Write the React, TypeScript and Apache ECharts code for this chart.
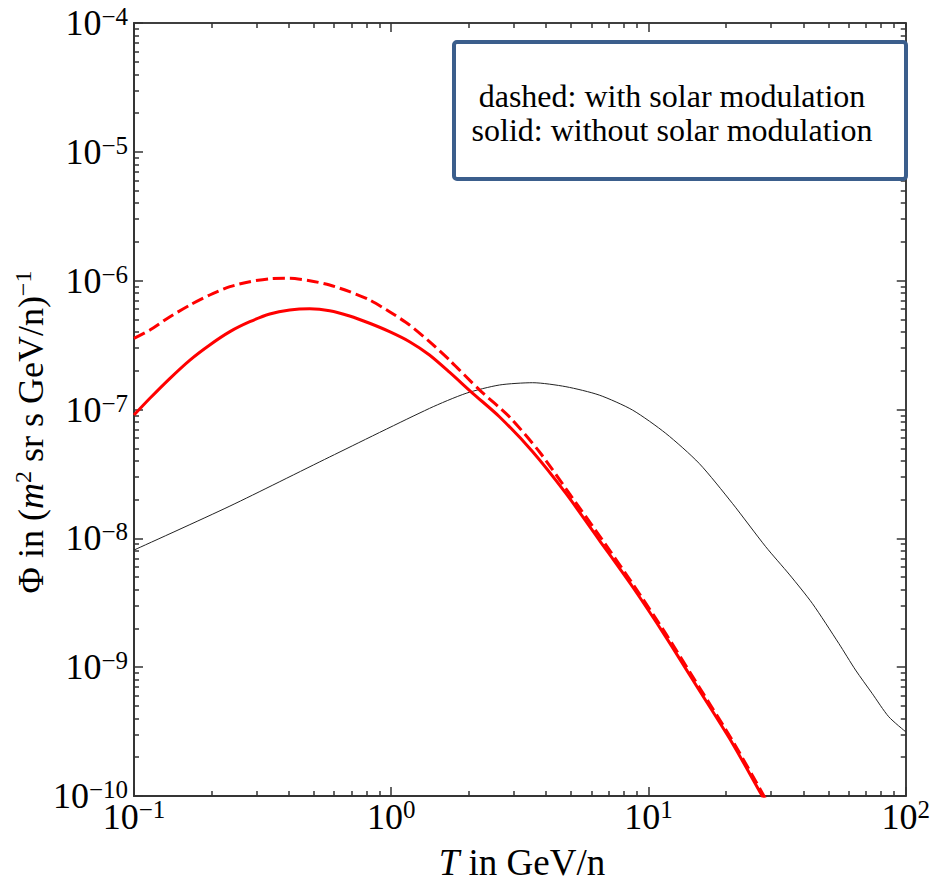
import React, { useEffect, useRef } from "react";
import * as echarts from "echarts";

// Kinetic energy per nucleon T (GeV/n) and flux Φ
const T_SOLID = [0.1, 0.1153, 0.138, 0.165, 0.197, 0.236, 0.282, 0.337, 0.403, 0.482, 0.576, 0.689, 0.824, 0.985, 1.178, 1.408, 1.684, 2.074, 2.633, 3.546, 4.775, 6.435, 8.667, 11.67, 15.73, 21.18, 27.3, 29.4];
const PHI_SOLID = [9.06e-8, 1.222e-7, 1.746e-7, 2.42e-7, 3.17e-7, 4.02e-7, 4.8e-7, 5.51e-7, 5.92e-7, 6.05e-7, 5.85e-7, 5.32e-7, 4.67e-7, 4.02e-7, 3.36e-7, 2.65e-7, 1.95e-7, 1.336e-7, 8.79e-8, 4.7e-8, 2.23e-8, 9.7e-9, 4.21e-9, 1.72e-9, 6.65e-10, 2.57e-10, 1.05e-10, 8.1e-11];

const T_DASH = [0.1, 0.1153, 0.138, 0.165, 0.197, 0.236, 0.282, 0.337, 0.403, 0.482, 0.576, 0.689, 0.824, 0.985, 1.178, 1.408, 1.684, 2.202, 2.877, 3.765, 4.92, 6.62, 8.667, 11.67, 15.73, 21.18, 27.3, 29.4];
const PHI_DASH = [3.57e-7, 4.14e-7, 5.25e-7, 6.47e-7, 7.74e-7, 8.98e-7, 9.82e-7, 1.035e-6, 1.042e-6, 1.0e-6, 9.25e-7, 8.21e-7, 7.08e-7, 5.74e-7, 4.53e-7, 3.36e-7, 2.42e-7, 1.42e-7, 8.79e-8, 4.7e-8, 2.23e-8, 9.7e-9, 4.45e-9, 1.82e-9, 7.02e-10, 2.7e-10, 1.11e-10, 8.5e-11];

const T_BG = [0.1, 0.236, 0.576, 1.408, 1.955, 2.633, 3.546, 4.775, 6.435, 8.667, 11.67, 15.73, 21.18, 28.55, 35.4, 43.3, 54.9, 63.8, 74.0, 85.9, 100];
const PHI_BG = [8.11e-9, 1.78e-8, 4.28e-8, 1.02e-7, 1.336e-7, 1.549e-7, 1.614e-7, 1.503e-7, 1.294e-7, 9.9e-8, 6.53e-8, 3.82e-8, 1.87e-8, 8.61e-9, 5.2e-9, 3.13e-9, 1.53e-9, 9.5e-10, 6.26e-10, 4.12e-10, 3.15e-10];

const X_MIN = 0.1;
const X_MAX = 100;
const Y_MIN = 1e-10;
const Y_MAX = 1e-4;
const X_MAJOR = [0.1, 1, 10, 100];
const Y_MAJOR = [1e-10, 1e-9, 1e-8, 1e-7, 1e-6, 1e-5, 1e-4];
// minor tick values (2..9 × 10^k)
const X_MINOR = [0.2, 0.3, 0.4, 0.5, 0.6, 0.7, 0.8, 0.9, 2, 3, 4, 5, 6, 7, 8, 9, 20, 30, 40, 50, 60, 70, 80, 90];
const Y_MINOR = [
  2e-10, 3e-10, 4e-10, 5e-10, 6e-10, 7e-10, 8e-10, 9e-10,
  2e-9, 3e-9, 4e-9, 5e-9, 6e-9, 7e-9, 8e-9, 9e-9,
  2e-8, 3e-8, 4e-8, 5e-8, 6e-8, 7e-8, 8e-8, 9e-8,
  2e-7, 3e-7, 4e-7, 5e-7, 6e-7, 7e-7, 8e-7, 9e-7,
  2e-6, 3e-6, 4e-6, 5e-6, 6e-6, 7e-6, 8e-6, 9e-6,
  2e-5, 3e-5, 4e-5, 5e-5, 6e-5, 7e-5, 8e-5, 9e-5,
];

const LEGEND_LINES = ["dashed: with solar modulation", "solid: without solar modulation"];

const FONT = "Liberation Serif";
const AXIS_COLOR = "#333";

function expLabel(v: number) {
  const e = Math.round(Math.log10(v));
  const s = e < 0 ? "\u2212" + Math.abs(e) : String(e);
  return `{b|10}{s|${s}}`;
}

function zip(a: number[], b: number[]) {
  return a.map((x, i) => [x, b[i]]);
}

// an unlabeled axis that only draws ticks at the given values
function tickAxis(kind: "x" | "y", position: string, values: number[], length: number) {
  return {
    type: "log",
    min: kind === "x" ? X_MIN : Y_MIN,
    max: kind === "x" ? X_MAX : Y_MAX,
    position,
    axisLine: { show: true, lineStyle: { color: AXIS_COLOR, width: 1.5 } },
    axisLabel: { show: false },
    splitLine: { show: false },
    axisTick: { show: true, inside: true, length, customValues: values, lineStyle: { color: AXIS_COLOR, width: 1.5 } },
  };
}

export default function App() {
  const ref = useRef<HTMLDivElement>(null);
  useEffect(() => {
    document.body.style.margin = "0";
    const chart = echarts.init(ref.current!, null, { renderer: "svg" });
    const lineCommon = { smooth: 0.25, showSymbol: false, clip: true };

    chart.setOption({
      animation: false,
      backgroundColor: "#ffffff",
      grid: { left: 134, top: 23, right: 26, bottom: 89, containLabel: false },
      xAxis: [
        {
          type: "log",
          min: X_MIN,
          max: X_MAX,
          interval: 1,
          position: "bottom",
          axisLine: { show: true, lineStyle: { color: AXIS_COLOR, width: 1.5 } },
          axisTick: { show: false },
          splitLine: { show: false },
          axisLabel: {
            show: true,
            margin: 1,
            formatter: expLabel,
            color: "#000",
            fontFamily: FONT,
            rich: {
              b: { fontSize: 36, fontFamily: FONT, color: "#000", lineHeight: 38, verticalAlign: "bottom", padding: [10, 0, 0, 0] },
              s: { fontSize: 25, fontFamily: FONT, color: "#000", lineHeight: 25, verticalAlign: "top" },
            },
          },
        },
        tickAxis("x", "bottom", X_MAJOR, 9),
        tickAxis("x", "bottom", X_MINOR, 5),
        tickAxis("x", "top", X_MAJOR, 9),
        tickAxis("x", "top", X_MINOR, 5),
      ],
      yAxis: [
        {
          type: "log",
          min: Y_MIN,
          max: Y_MAX,
          interval: 1,
          position: "left",
          axisLine: { show: true, lineStyle: { color: AXIS_COLOR, width: 1.5 } },
          axisTick: { show: false },
          splitLine: { show: false },
          axisLabel: {
            show: true,
            margin: 6,
            formatter: expLabel,
            color: "#000",
            fontFamily: FONT,
            rich: {
              b: { fontSize: 36, fontFamily: FONT, color: "#000", lineHeight: 38 },
              s: { fontSize: 25, fontFamily: FONT, color: "#000", lineHeight: 25, verticalAlign: "top" },
            },
          },
        },
        tickAxis("y", "left", Y_MAJOR, 9),
        tickAxis("y", "left", Y_MINOR, 5),
        tickAxis("y", "right", Y_MAJOR, 9),
        tickAxis("y", "right", Y_MINOR, 5),
      ],
      series: [
        { type: "line", name: "background", data: zip(T_BG, PHI_BG), ...lineCommon, lineStyle: { color: "#222", width: 1 }, z: 3 },
        { type: "line", name: "solid", data: zip(T_SOLID, PHI_SOLID), ...lineCommon, lineStyle: { color: "#ff0000", width: 3 }, z: 4 },
        { type: "line", name: "dashed", data: zip(T_DASH, PHI_DASH), ...lineCommon, lineStyle: { color: "#ff0000", width: 3, type: [12, 5] }, z: 4 },
      ],
      graphic: [
        {
          type: "rect",
          left: 452,
          top: 40,
          shape: { width: 452, height: 137, r: 3 },
          style: { fill: "#ffffff", stroke: "#3b5e8c", lineWidth: 4 },
          z: 10,
        },
        {
          type: "text",
          x: 672,
          y: 96,
          style: { text: LEGEND_LINES[0], font: `32px '${FONT}'`, fill: "#000", align: "center", verticalAlign: "middle" },
          z: 11,
        },
        {
          type: "text",
          x: 672,
          y: 130,
          style: { text: LEGEND_LINES[1], font: `32px '${FONT}'`, fill: "#000", align: "center", verticalAlign: "middle" },
          z: 11,
        },
        {
          type: "text",
          x: 522,
          y: 862,
          style: {
            text: "{i|T}{r| in GeV/n}",
            align: "center",
            verticalAlign: "middle",
            rich: {
              i: { fontFamily: FONT, fontSize: 37, fontStyle: "italic", fill: "#000", lineHeight: 36 },
              r: { fontFamily: FONT, fontSize: 37, fill: "#000", lineHeight: 36 },
            },
          },
          z: 11,
        },
        {
          type: "text",
          x: 31,
          y: 432,
          rotation: Math.PI / 2,
          style: {
            text: "{r|\u03A6 in (}{i|m}{s|2}{r| sr s GeV/n)}{s|\u22121}",
            align: "center",
            verticalAlign: "middle",
            rich: {
              r: { fontFamily: FONT, fontSize: 36, fill: "#000", lineHeight: 40 },
              i: { fontFamily: FONT, fontSize: 36, fontStyle: "italic", fill: "#000", lineHeight: 40 },
              s: { fontFamily: FONT, fontSize: 24, fill: "#000", lineHeight: 24, verticalAlign: "top" },
            },
          },
          z: 11,
        },
      ],
    });
    return () => chart.dispose();
  }, []);
  return <div ref={ref} style={{ width: 933, height: 885 }} />;
}
